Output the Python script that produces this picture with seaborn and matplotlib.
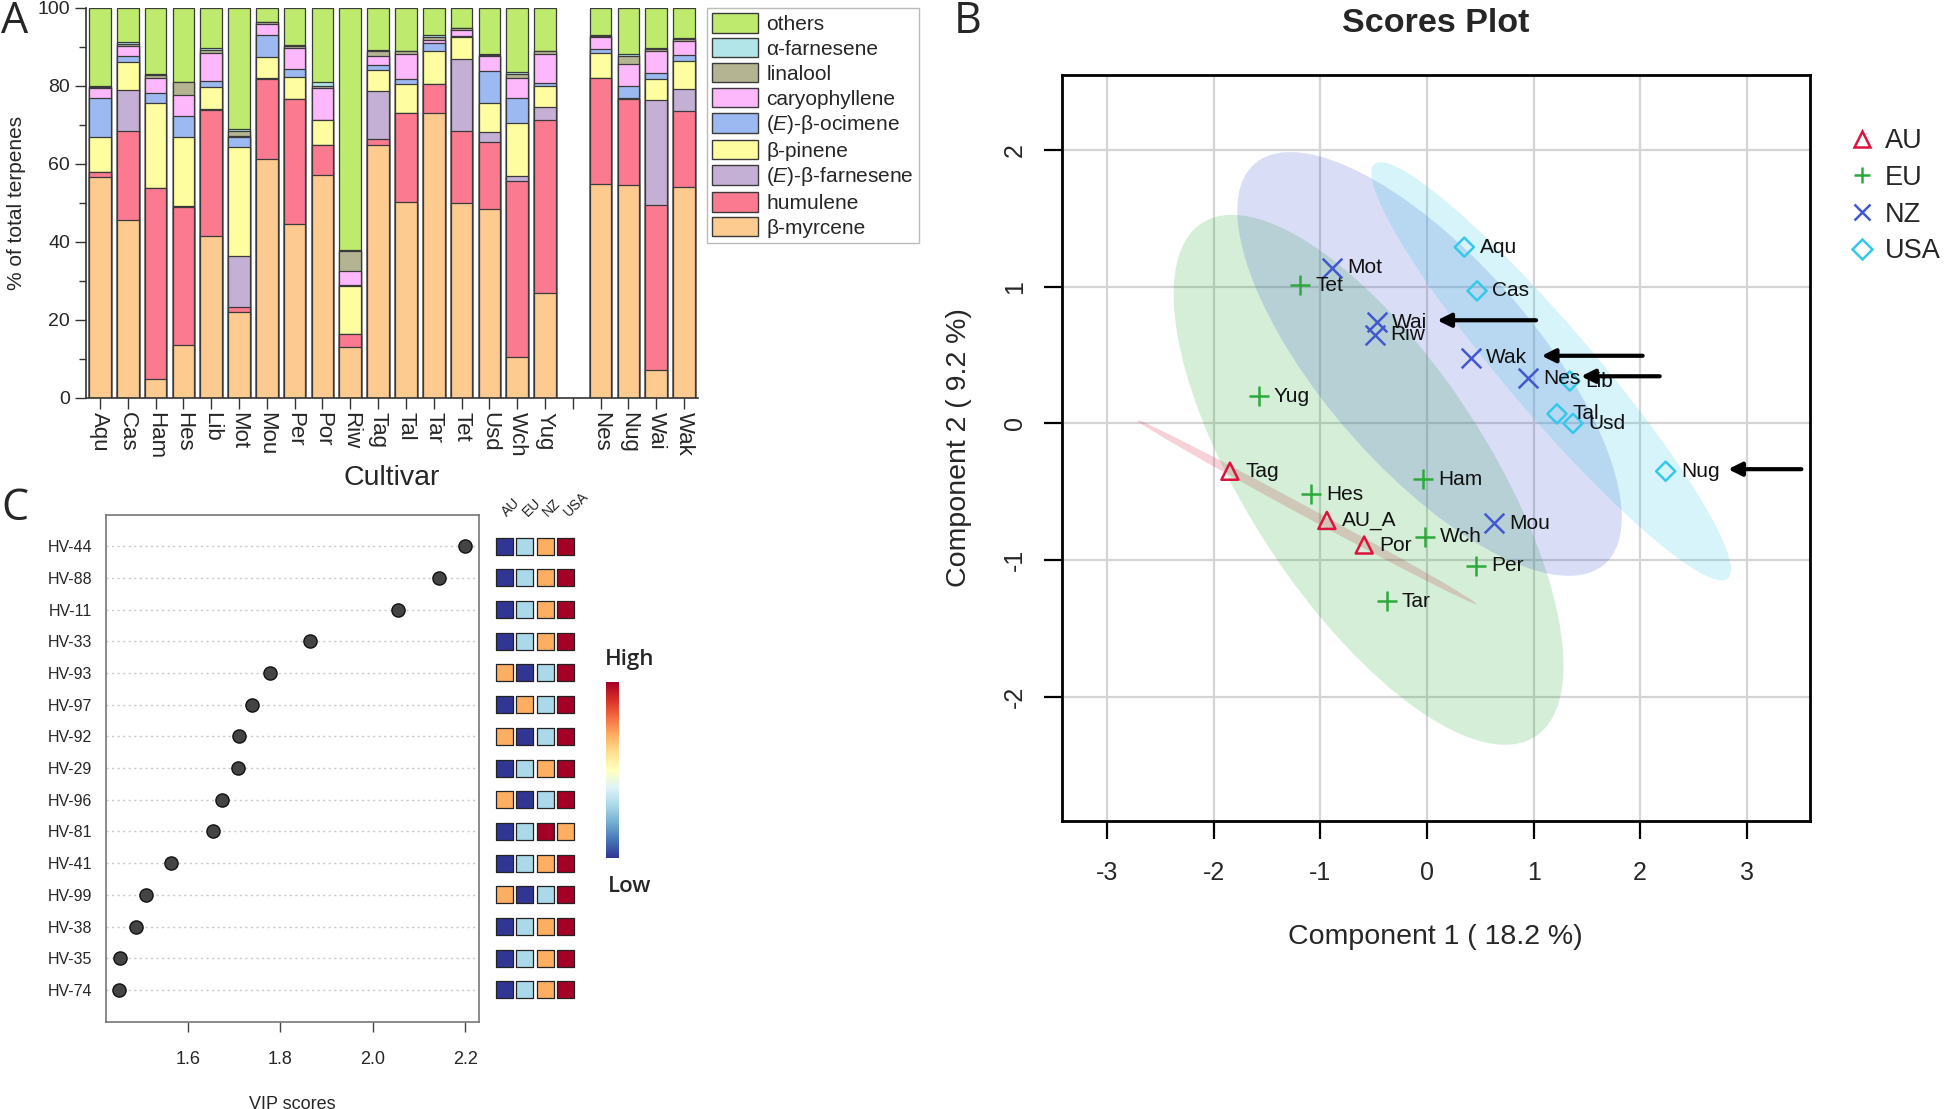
import numpy as np
import pandas as pd
import matplotlib
matplotlib.use("Agg")
import matplotlib.pyplot as plt
from matplotlib.patches import Ellipse, Patch
from matplotlib.lines import Line2D
import seaborn as sns

# ---------------- panel A: terpene composition (% of total terpenes) ----------------
cultivars = ["Aqu", "Cas", "Ham", "Hes", "Lib", "Mot", "Mou", "Per", "Por", "Riw", "Tag",
             "Tal", "Tar", "Tet", "Usd", "Wch", "Yug", " ", "Nes", "Nug", "Wai", "Wak"]
nan = np.nan
myrcene = [56.6, 45.6, 4.9, 13.6, 41.5, 22.0, 61.3, 44.7, 57.2, 13.0, 65.0,
           50.3, 73.2, 50.0, 48.5, 10.4, 26.9, nan, 55.0, 54.7, 7.3, 54.1]
humulene = [1.4, 22.9, 48.9, 35.3, 32.4, 1.3, 20.6, 32.0, 7.6, 3.5, 1.4,
            22.9, 7.4, 18.5, 17.1, 45.2, 44.5, nan, 27.1, 22.0, 42.1, 19.4]
e_farnesene = [0.0, 10.6, 0.0, 0.3, 0.3, 13.0, 0.2, 0.0, 0.2, 0.0, 12.4,
               0.0, 0.0, 18.3, 2.6, 1.2, 3.2, nan, 0.0, 0.0, 27.1, 5.7]
pinene = [8.8, 7.0, 21.8, 17.6, 5.5, 28.0, 5.3, 5.5, 6.2, 12.1, 5.4,
          7.3, 8.3, 5.8, 7.4, 13.7, 5.5, nan, 6.4, 0.2, 5.3, 7.1]
ocimene = [10.0, 1.5, 2.6, 5.4, 1.7, 2.6, 5.8, 2.2, 0.2, 0.5, 1.2,
           1.3, 2.0, 0.3, 8.2, 6.4, 0.7, nan, 1.0, 3.0, 1.5, 1.7]
caryophyllene = [2.7, 2.6, 3.9, 5.4, 7.1, 0.4, 2.8, 5.3, 8.1, 3.4, 2.4,
                 6.5, 1.0, 1.4, 3.8, 5.2, 7.4, nan, 3.0, 5.8, 5.6, 3.6]
linalool = [0.3, 0.6, 0.7, 3.3, 0.8, 1.2, 0.3, 0.5, 0.6, 5.1, 1.1,
            0.6, 0.7, 0.6, 0.4, 1.1, 0.7, nan, 0.4, 2.1, 0.6, 0.5]
a_farnesene = [0.3, 0.4, 0.2, 0.1, 0.4, 0.6, 0.2, 0.2, 0.8, 0.3, 0.4,
               0.2, 0.6, 0.1, 0.2, 0.4, 0.2, nan, 0.3, 0.3, 0.2, 0.2]
others = [19.9, 8.8, 17.0, 19.0, 10.3, 30.9, 3.5, 9.6, 19.1, 62.1, 10.7,
          10.9, 6.8, 5.0, 11.8, 16.4, 10.9, nan, 6.8, 11.9, 10.3, 7.7]

# bottom -> top
compounds = ["β-myrcene", "humulene", "($\\mathit{E}$)-β-farnesene", "β-pinene",
             "($\\mathit{E}$)-β-ocimene", "caryophyllene", "linalool", "α-farnesene", "others"]
compound_values = [myrcene, humulene, e_farnesene, pinene, ocimene,
                   caryophyllene, linalool, a_farnesene, others]
compound_colors = ["#FDCA90", "#FB7A90", "#C5B0D5", "#FEFDA0", "#9DB9F2",
                   "#FDB7FB", "#B4B493", "#B2E5E8", "#BEEB6E"]

# ---------------- panel B: PLS-DA scores ----------------
pts_name = ["Tag", "AU_A", "Por",
            "Tet", "Yug", "Hes", "Ham", "Wch", "Per", "Tar",
            "Mot", "Wai", "Riw", "Wak", "Nes", "Mou",
            "Aqu", "Cas", "Lib", "Tal", "Usd", "Nug"]
pts_group = ["AU"] * 3 + ["EU"] * 7 + ["NZ"] * 6 + ["USA"] * 6
comp1 = [-1.85, -0.94, -0.59,
         -1.19, -1.58, -1.09, -0.04, -0.02, 0.46, -0.38,
         -0.89, -0.47, -0.49, 0.41, 0.95, 0.63,
         0.35, 0.47, 1.34, 1.22, 1.37, 2.24]
comp2 = [-0.35, -0.71, -0.89,
         1.01, 0.20, -0.52, -0.41, -0.83, -1.04, -1.30,
         1.14, 0.74, 0.65, 0.48, 0.33, -0.73,
         1.29, 0.97, 0.31, 0.07, 0.00, -0.35]
groups = ["AU", "EU", "NZ", "USA"]
group_colors = {"AU": "#DC143C", "EU": "#2EAA3C", "NZ": "#4158D0", "USA": "#36C8EA"}
group_markers = {"AU": "^", "EU": "+", "NZ": "x", "USA": "D"}
# highlighted cultivars and where their arrows start (component 1)
arrow_names = ["Wai", "Wak", "Nes", "Nug"]
arrow_tail_x = [1.05, 2.05, 2.21, 3.54]
arrow_head_dx = [0.54, 0.64, 0.47, 0.56]

# ---------------- panel C: VIP scores ----------------
features = ["HV-44", "HV-88", "HV-11", "HV-33", "HV-93", "HV-97", "HV-92", "HV-29",
            "HV-96", "HV-81", "HV-41", "HV-99", "HV-38", "HV-35", "HV-74"]
vip = [2.200, 2.144, 2.055, 1.865, 1.779, 1.738, 1.712, 1.709,
       1.675, 1.655, 1.563, 1.510, 1.489, 1.454, 1.452]
rank_au = [1, 1, 1, 1, 3, 1, 3, 1, 3, 1, 1, 3, 1, 1, 1]
rank_eu = [2, 2, 2, 2, 1, 3, 1, 2, 1, 2, 2, 1, 2, 2, 2]
rank_nz = [3, 3, 3, 3, 2, 2, 2, 3, 2, 4, 3, 2, 3, 3, 3]
rank_usa = [4, 4, 4, 4, 4, 4, 4, 4, 4, 3, 4, 4, 4, 4, 4]

sns.set_theme(style="white")
plt.rcParams["font.family"] = ["Liberation Sans", "DejaVu Sans"]
plt.rcParams["mathtext.fontset"] = "custom"
plt.rcParams["mathtext.it"] = "Liberation Sans:italic"
plt.rcParams["mathtext.rm"] = "Liberation Sans"
plt.rcParams["axes.unicode_minus"] = False

W, H = 1946, 1109
fig = plt.figure(figsize=(W / 100, H / 100), dpi=100)


def box(x0, y0, x1, y1):
    return [x0 / W, 1 - y1 / H, (x1 - x0) / W, (y1 - y0) / H]


# ======================= A =======================
axA = fig.add_axes(box(86, 8, 698, 398))
dfA = pd.DataFrame({"cultivar": cultivars})
running = np.zeros(len(cultivars))
for name, vals in zip(compounds, compound_values):
    running = running + np.array(vals, dtype=float)
    dfA[name] = running
for name, col in reversed(list(zip(compounds, compound_colors))):
    sns.barplot(data=dfA, x="cultivar", y=name, order=cultivars, color=col,
                width=0.78, edgecolor="#3a3a3a", linewidth=0.9, errorbar=None,
                saturation=1, ax=axA)
axA.set_xlim(-0.5, 21.5)
axA.set_ylim(0, 100)
axA.set_yticks([0, 20, 40, 60, 80, 100])
axA.set_yticks([10, 30, 50, 70, 90], minor=True)
axA.tick_params(axis="y", which="major", length=8, width=1, labelsize=14, direction="out", left=True, color="#333")
axA.tick_params(axis="y", which="minor", length=5, width=1, direction="out", left=True, color="#333")
axA.tick_params(axis="x", length=8, width=1, labelsize=16, direction="out", bottom=True,
                labelrotation=-90, color="#333", pad=2)
for s in ["top", "right"]:
    axA.spines[s].set_visible(False)
for s in ["left", "bottom"]:
    axA.spines[s].set_color("#333")
    axA.spines[s].set_linewidth(1.2)
axA.set_xlabel("Cultivar", fontsize=20.5, labelpad=4)
axA.set_ylabel("% of total terpenes", fontsize=15, labelpad=8)
handles = [Patch(facecolor=c, edgecolor="#3a3a3a", label=n)
           for n, c in zip(compounds[::-1], compound_colors[::-1])]
legA = axA.legend(handles=handles, loc="upper left", bbox_to_anchor=(707 / W, 1 - 8 / H),
                  bbox_transform=fig.transFigure, fontsize=15, frameon=True, fancybox=False,
                  edgecolor="#aaaaaa", borderpad=0.25, handlelength=2.2, handleheight=1.05,
                  labelspacing=0.2, handletextpad=0.4, borderaxespad=0)
legA.get_frame().set_linewidth(1.0)

# ======================= B =======================
axB = fig.add_axes(box(1061.6, 75, 1809.5, 821))
dfB = pd.DataFrame({"name": pts_name, "group": pts_group, "c1": comp1, "c2": comp2})
k95 = np.sqrt(-2 * np.log(0.05))
for g in groups:
    sub = dfB[dfB["group"] == g]
    cov = np.cov(sub["c1"], sub["c2"])
    evals, evecs = np.linalg.eigh(cov)
    order = evals.argsort()[::-1]
    evals, evecs = evals[order], evecs[:, order]
    ang = np.degrees(np.arctan2(evecs[1, 0], evecs[0, 0]))
    ell = Ellipse((sub["c1"].mean(), sub["c2"].mean()), 2 * k95 * np.sqrt(evals[0]),
                  2 * k95 * np.sqrt(max(evals[1], 0)), angle=ang,
                  facecolor=group_colors[g], alpha=0.2, edgecolor="none", zorder=1)
    axB.add_patch(ell)
for g in groups:
    sub = dfB[dfB["group"] == g]
    m = group_markers[g]
    if m in ("^", "D"):
        sns.scatterplot(data=sub, x="c1", y="c2", marker=m, s=150 if m == "^" else 95,
                        facecolor="none", edgecolor=group_colors[g], linewidth=1.8,
                        ax=axB, zorder=3)
    else:
        sns.scatterplot(data=sub, x="c1", y="c2", marker=m, s=200, color=group_colors[g],
                        linewidth=1.8, ax=axB, zorder=3)
for _, r in dfB.iterrows():
    axB.annotate(r["name"], (r["c1"], r["c2"]), xytext=(11, 0), textcoords="offset points",
                 ha="left", va="center", fontsize=15, color="#111", zorder=4)
for nm, tx, dx in zip(arrow_names, arrow_tail_x, arrow_head_dx):
    r = dfB[dfB["name"] == nm].iloc[0]
    axB.annotate("", xy=(r["c1"] + dx, r["c2"] + 0.015), xytext=(tx, r["c2"] + 0.015),
                 arrowprops=dict(arrowstyle="-|>", color="black", lw=3, mutation_scale=20),
                 zorder=5)
axB.set_xlim(-3.43, 3.59)
axB.set_ylim(-2.91, 2.55)
axB.set_xticks(range(-3, 4))
axB.set_yticks(range(-2, 3))
axB.grid(True, color="#d4d4d4", linewidth=1.6)
axB.set_axisbelow(True)
for s in axB.spines.values():
    s.set_color("black")
    s.set_linewidth(2)
axB.tick_params(axis="both", length=13, width=1.6, labelsize=18, direction="out",
                bottom=True, left=True, color="black")
axB.tick_params(axis="x", pad=16)
axB.tick_params(axis="y", pad=12)
for t in axB.get_yticklabels():
    t.set_rotation(90)
    t.set_va("center")
axB.set_xlabel("Component 1 ( 18.2 %)", fontsize=20.5, labelpad=28)
axB.set_ylabel("Component 2 ( 9.2 %)", fontsize=20.5, labelpad=22)
fig.text(1435.5 / W, 1 - 24 / H, "Scores Plot", ha="center", va="center",
         fontsize=24.5, fontweight="bold")
legB_handles = [Line2D([], [], linestyle="none", marker=group_markers[g], markersize=12 if g != "USA" else 10,
                       markerfacecolor="none", markeredgecolor=group_colors[g], markeredgewidth=1.8,
                       label=g) for g in groups]
fig.legend(handles=legB_handles, loc="upper left", bbox_to_anchor=(1847 / W, 1 - 128 / H),
           frameon=False, fontsize=19.5, handletextpad=0.3, labelspacing=0.4, handlelength=1.1,
           borderaxespad=0, borderpad=0)

# ======================= C =======================
axC = fig.add_axes(box(106, 514.5, 478.6, 1021.6))
dfC = pd.DataFrame({"feature": features, "vip": vip, "row": np.arange(len(features))})
for i in dfC["row"]:
    axC.axhline(i, color="#c8c8c8", linestyle=(0, (1.5, 2.5)), linewidth=1, zorder=1)
sns.scatterplot(data=dfC, x="vip", y="row", s=90, color="#444444", edgecolor="#111111",
                linewidth=1, ax=axC, zorder=3)
axC.set_xlim(1.4234, 2.229)
axC.set_ylim(15.0, -1.0)
axC.set_yticks(dfC["row"])
axC.set_yticklabels(features)
axC.set_xticks([1.6, 1.8, 2.0, 2.2])
axC.set_xticklabels(["1.6", "1.8", "2.0", "2.2"])
axC.tick_params(axis="y", length=0, labelsize=11.5, pad=10, left=False)
axC.tick_params(axis="x", length=7, width=1, labelsize=13, direction="out", bottom=True,
                color="#444", pad=14)
for s in axC.spines.values():
    s.set_color("#777")
    s.set_linewidth(1.2)
axC.set_xlabel("VIP scores", fontsize=13, labelpad=20)
axC.set_ylabel("")

axH = fig.add_axes(box(494, 514.5, 576, 1021.6))
dfH = pd.DataFrame({
    "row": np.tile(np.arange(len(features)), 4),
    "col": np.repeat(np.arange(4), len(features)),
    "rank": rank_au + rank_eu + rank_nz + rank_usa,
})
rank_pal = {1: "#313695", 2: "#ABD9E9", 3: "#FDAE61", 4: "#A50026"}
sns.scatterplot(data=dfH, x="col", y="row", hue="rank", palette=rank_pal, marker="s", s=150,
                edgecolor="#222222", linewidth=0.9, legend=False, ax=axH)
axH.set_xlim(-0.5, 3.5)
axH.set_ylim(15.0, -1.0)
axH.axis("off")
for i, g in enumerate(groups):
    axH.text(i - 0.25, -0.85, g, rotation=45, ha="left", va="bottom", fontsize=10, color="#222")

cax = fig.add_axes(box(606, 682, 619, 858))
cb = matplotlib.colorbar.ColorbarBase(cax, cmap=plt.get_cmap("RdYlBu_r"), orientation="vertical")
cb.set_ticks([])
cb.outline.set_visible(False)
fig.text(630 / W, 1 - 660 / H, "High", ha="center", va="center", fontsize=16, fontweight="semibold",
         family=["Open Sans", "DejaVu Sans"])
fig.text(630 / W, 1 - 887 / H, "Low", ha="center", va="center", fontsize=16, fontweight="semibold",
         family=["Open Sans", "DejaVu Sans"])

# panel letters
for lbl, x, y in [("A", 15, 22), ("B", 968, 22), ("C", 15, 509)]:
    fig.text(x / W, 1 - y / H, lbl, ha="center", va="center", fontsize=31,
             family=["Open Sans", "DejaVu Sans"])

fig.savefig("out.png", dpi=100)
